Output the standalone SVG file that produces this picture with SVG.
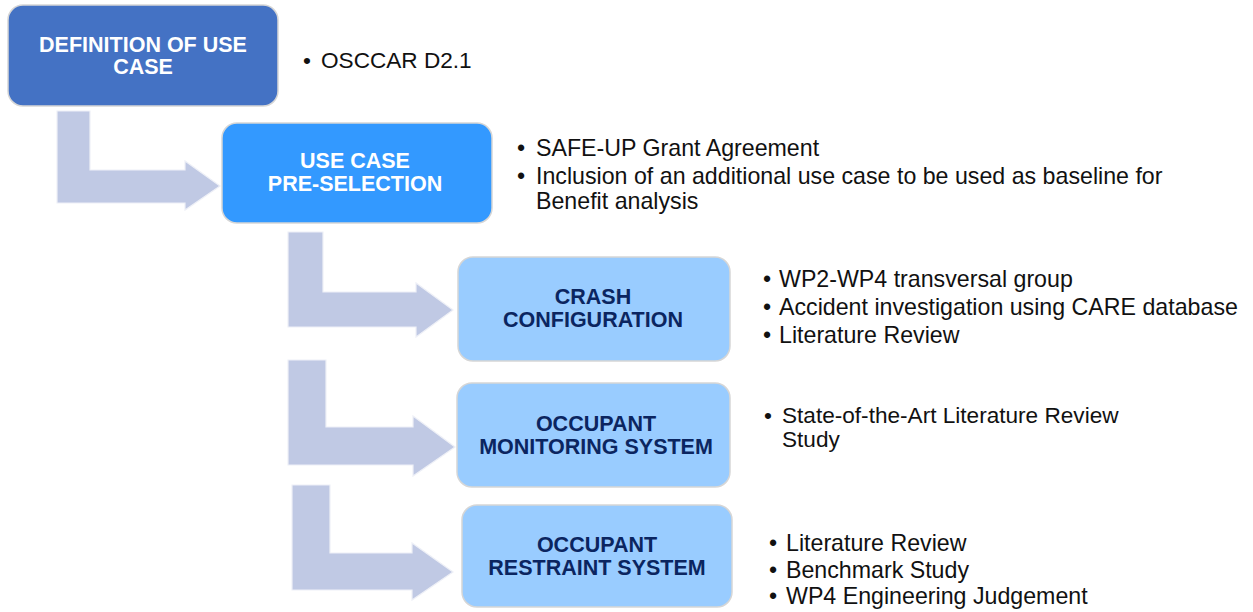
<svg xmlns="http://www.w3.org/2000/svg" width="1253" height="612" viewBox="0 0 1253 612">
  <style>
    .box { stroke: #d6d6d6; stroke-width: 1.5; }
    .b1 { fill: #4472C4; }
    .b2 { fill: #3399FF; }
    .b3 { fill: #99CCFF; }
    .lbl { font-family: "Liberation Sans", Arial, sans-serif; font-weight: bold; font-size: 21.5px; text-anchor: middle; }
    .w { fill: #FFFFFF; }
    .n { fill: #0B2560; }
    .txt { font-family: "Liberation Sans", Arial, sans-serif; font-size: 23.2px; fill: #111111; }
    .sm { font-size: 22.6px; }
    .arrow { fill: #C0C9E4; stroke: #EEF0F7; stroke-width: 1.2; }
  </style>
  <rect width="1253" height="612" fill="#FFFFFF"/>

  <!-- bent-up step arrows between stages -->
  <g id="connectors">
    <polygon class="arrow" points="57,111 90,111 90,170 185,170 185,161 220,186 185,210 185,203 57,203"/>
    <polygon class="arrow" points="288,232 323,232 323,292 416,292 416,283 453,310 416,337 416,327 288,327"/>
    <polygon class="arrow" points="288,360 326,360 326,427 413,427 413,416 455,447 413,476 413,465 288,465"/>
    <polygon class="arrow" points="292,485 330,485 330,553 412,553 412,543 453,572 412,600 412,590 292,590"/>
  </g>

  <g id="definition">
    <rect class="box b1" x="8" y="5" width="270" height="101" rx="15"/>
    <text class="lbl w" x="143" y="52">DEFINITION OF USE</text>
    <text class="lbl w" x="143" y="74">CASE</text>
    <text class="txt sm" x="303" y="68">•</text>
    <text class="txt sm" x="321" y="68">OSCCAR D2.1</text>
  </g>

  <g id="preselection">
    <rect class="box b2" x="222" y="123" width="270" height="100" rx="15"/>
    <text class="lbl w" x="355" y="168">USE CASE</text>
    <text class="lbl w" x="355" y="191">PRE-SELECTION</text>
    <text class="txt" x="517" y="156">•</text>
    <text class="txt" x="536" y="156">SAFE-UP Grant Agreement</text>
    <text class="txt" x="517" y="184">•</text>
    <text class="txt" x="536" y="184">Inclusion of an additional use case to be used as baseline for</text>
    <text class="txt" x="536" y="209">Benefit analysis</text>
  </g>

  <g id="crash-configuration">
    <rect class="box b3" x="458" y="257" width="272" height="104" rx="15"/>
    <text class="lbl n" x="593" y="304">CRASH</text>
    <text class="lbl n" x="593" y="327">CONFIGURATION</text>
    <text class="txt" x="763" y="287">•</text>
    <text class="txt" x="779" y="287">WP2-WP4 transversal group</text>
    <text class="txt" x="763" y="315">•</text>
    <text class="txt" x="779" y="315">Accident investigation using CARE database</text>
    <text class="txt" x="763" y="343">•</text>
    <text class="txt" x="779" y="343">Literature Review</text>
  </g>

  <g id="monitoring-system">
    <rect class="box b3" x="457" y="383" width="273" height="104" rx="15"/>
    <text class="lbl n" x="596" y="431">OCCUPANT</text>
    <text class="lbl n" x="596" y="454">MONITORING SYSTEM</text>
    <text class="txt sm" x="764" y="423">•</text>
    <text class="txt sm" x="782" y="423">State-of-the-Art Literature Review</text>
    <text class="txt sm" x="782" y="447">Study</text>
  </g>

  <g id="restraint-system">
    <rect class="box b3" x="462" y="505" width="270" height="102" rx="15"/>
    <text class="lbl n" x="597" y="552">OCCUPANT</text>
    <text class="lbl n" x="597" y="575">RESTRAINT SYSTEM</text>
    <text class="txt" x="769" y="551">•</text>
    <text class="txt" x="786" y="551">Literature Review</text>
    <text class="txt" x="769" y="578">•</text>
    <text class="txt" x="786" y="578">Benchmark Study</text>
    <text class="txt" x="769" y="604">•</text>
    <text class="txt" x="786" y="604">WP4 Engineering Judgement</text>
  </g>
</svg>
